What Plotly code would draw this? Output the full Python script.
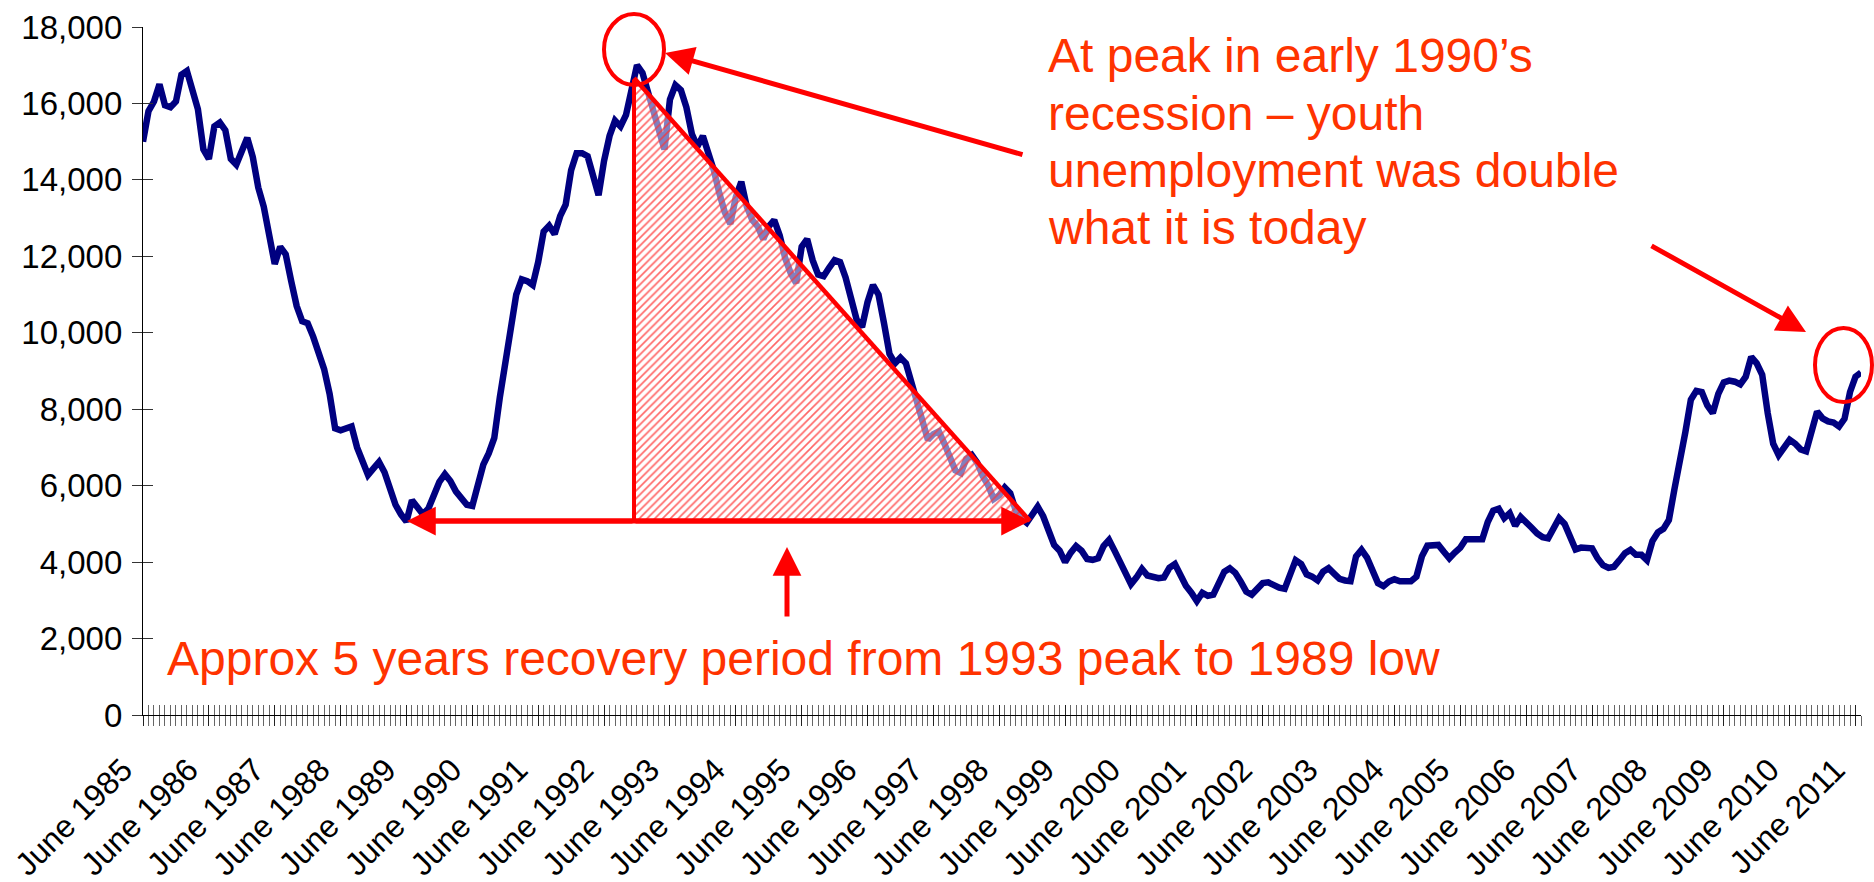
import plotly.graph_objects as go

# ---------------- data (monthly, June 1985 .. July 2011) ----------------
first_year = 1985
claimants_1985_1990 = [
    15000, 15800, 16050, 16500, 15950, 15900, 16050, 16750, 16850, 16300, 15850, 14800,
    14550, 15400, 15500, 15300, 14550, 14400, 14750, 15100, 14600, 13800, 13300, 12500,
    11800, 12250, 12050, 11350, 10700, 10300, 10250, 9900, 9450, 9050, 8400, 7500,
    7450, 7500, 7550, 7000, 6650, 6280, 6450, 6620, 6350, 5850, 5500, 5250,
    5060, 5620, 5450, 5250, 5400, 5750, 6100, 6300, 6120, 5850, 5680, 5500,
]
claimants_1990_1995 = [
    5470, 5950, 6550, 6850, 7250, 8300, 9200, 10050, 11000, 11400, 11350, 11250,
    11850, 12650, 12800, 12580, 13050, 13350, 14250, 14700, 14700, 14620, 14100, 13600,
    14500, 15150, 15550, 15400, 15700, 16450, 17000, 16800, 16300, 15850, 15350, 14800,
    16100, 16480, 16350, 15900, 15200, 14870, 15150, 14750, 14250, 13650, 13150, 12850,
    13550, 13950, 13300, 12950, 12780, 12450, 12780, 12950, 12550, 11950, 11560, 11300,
]
claimants_1995_2000 = [
    12250, 12450, 11900, 11520, 11480, 11700, 11900, 11850, 11450, 10900, 10350, 10150,
    10800, 11250, 11000, 10250, 9450, 9200, 9350, 9200, 8700, 8200, 7700, 7200,
    7350, 7420, 7100, 6750, 6400, 6330, 6700, 6800, 6600, 6250, 6000, 5650,
    5750, 5950, 5800, 5350, 5150, 5030, 5250, 5450, 5200, 4800, 4450, 4300,
    4000, 4240, 4420, 4300, 4080, 4060, 4100, 4420, 4580, 4300, 4000, 3750,
]
claimants_2000_2005 = [
    3420, 3600, 3820, 3650, 3600, 3580, 3600, 3850, 3950, 3650, 3380, 3200,
    2980, 3200, 3120, 3150, 3450, 3750, 3840, 3720, 3490, 3230, 3150, 3300,
    3450, 3470, 3390, 3330, 3300, 3650, 4050, 3950, 3680, 3620, 3520, 3750,
    3840, 3700, 3560, 3520, 3500, 4150, 4320, 4120, 3800, 3450, 3370, 3490,
    3550, 3500, 3500, 3500, 3620, 4150, 4430, 4450, 4450, 4270, 4100, 4250,
]
claimants_2005_2011 = [
    4380, 4600, 4600, 4600, 4600, 5050, 5350, 5400, 5150, 5280, 4950, 5180,
    5060, 4900, 4750, 4650, 4620, 4930, 5150, 5000, 4700, 4330, 4380, 4380,
    4360, 4100, 3920, 3850, 3880, 4050, 4230, 4320, 4190, 4190, 4050, 4550,
    4780, 4870, 5100, 5900, 6600, 7400, 8250, 8480, 8450, 8100, 7900, 8400,
    8700, 8750, 8720, 8650, 8850, 9370, 9200, 8900, 7900, 7100, 6800, 7000,
    7200, 7100, 6950, 6900, 7400, 7940, 7760, 7680, 7650, 7550, 7750, 8450,
    8850, 8960,
]
youth_unemployment = (claimants_1985_1990 + claimants_1990_1995 + claimants_1995_2000
                      + claimants_2000_2005 + claimants_2005_2011)
month_index = list(range(len(youth_unemployment)))
tick_labels = [f"June {y}" for y in range(first_year, 2012)]
tick_positions = [12 * i for i in range(len(tick_labels))]
y_ticks = list(range(0, 18001, 2000))

# ---------------- layout geometry ----------------
W, H = 1874, 882
ML, MR, MT, MB = 143, 13, 27, 167
XMAX = len(youth_unemployment) - 1
YMAX = 18000
PW, PH = W - ML - MR, H - MT - MB


def xd(px):  # pixel -> data x
    return (px - ML) / PW * XMAX


def yd(py):  # pixel -> data y
    return (H - MB - py) / PH * YMAX


def xp(px):  # pixel -> paper x
    return (px - ML) / PW


def yp(py):  # pixel -> paper y
    return (H - MB - py) / PH


RED = "#FF0000"
TXT = "#FF3300"
FONT = "Liberation Sans, Arial, Helvetica, sans-serif"

fig = go.Figure()
fig.add_trace(go.Scatter(
    x=month_index, y=youth_unemployment, mode="lines",
    line=dict(color="#000080", width=6.5), showlegend=False, hoverinfo="skip",
))

# hatched triangle (drawn over the line)
tri_px = [(634, 80), (634, 521), (1030, 521), (634, 80)]
fig.add_trace(go.Scatter(
    x=[xd(p[0]) for p in tri_px], y=[yd(p[1]) for p in tri_px],
    mode="lines", fill="toself", line=dict(width=0, color="rgba(0,0,0,0)"),
    fillcolor="rgba(255,255,255,0.5)",
    fillpattern=dict(shape="/", fgcolor="rgba(255,50,50,0.75)", bgcolor="rgba(255,255,255,0.5)",
                     size=5.5, solidity=0.3, fillmode="replace"),
    xaxis="x2", yaxis="y2", showlegend=False, hoverinfo="skip",
))

xtickfont = dict(family=FONT, size=32, color="#000000")
ytickfont = dict(family=FONT, size=33, color="#000000")
fig.update_layout(
    width=W, height=H, margin=dict(l=ML, r=MR, t=MT, b=MB, autoexpand=False),
    paper_bgcolor="white", plot_bgcolor="white", showlegend=False,
    xaxis=dict(
        range=[0, XMAX], tickmode="array", tickvals=tick_positions, ticktext=tick_labels,
        tickangle=-45, tickfont=xtickfont, ticks="outside", ticklen=10, tickwidth=1.3,
        tickcolor="#222222", showline=True, linecolor="#000000", linewidth=1.3,
        showgrid=False, zeroline=False, ticklabelstandoff=12, ticklabelshift=-20,
        automargin=False,
        minor=dict(tickmode="linear", tick0=0, dtick=1, ticks="outside", ticklen=10,
                   tickwidth=1, tickcolor="#666666", showgrid=False),
    ),
    yaxis=dict(
        range=[0, YMAX], tickmode="array", tickvals=y_ticks, tickformat=",d",
        tickfont=ytickfont, ticks="outside", ticklen=10, tickwidth=1.3, tickcolor="#333333",
        showline=True, linecolor="#000000", linewidth=1.3, showgrid=False, zeroline=False,
        ticklabelstandoff=3, automargin=False,
    ),
    xaxis2=dict(
        range=[0, XMAX], overlaying="x", anchor="y2", side="bottom", tickmode="array",
        tickvals=tick_positions, showticklabels=False, ticks="inside", ticklen=10,
        tickwidth=1.3, tickcolor="#222222", showline=False, showgrid=False, zeroline=False,
        automargin=False,
        minor=dict(tickmode="linear", tick0=0, dtick=1, ticks="inside", ticklen=10,
                   tickwidth=1, tickcolor="#666666", showgrid=False),
    ),
    yaxis2=dict(
        range=[0, YMAX], overlaying="y", anchor="x2", side="left", tickmode="array",
        tickvals=y_ticks, showticklabels=False, ticks="inside", ticklen=10, tickwidth=1.3,
        tickcolor="#333333", showline=False, showgrid=False, zeroline=False, automargin=False,
    ),
)

shapes = []
# triangle edges
shapes.append(dict(type="line", xref="paper", yref="paper", x0=xp(634), y0=yp(80),
                   x1=xp(634), y1=yp(521), line=dict(color=RED, width=4)))
shapes.append(dict(type="line", xref="paper", yref="paper", x0=xp(634), y0=yp(78),
                   x1=xp(1030), y1=yp(521), line=dict(color=RED, width=4.5)))
# horizontal arrow shaft
shapes.append(dict(type="line", xref="paper", yref="paper", x0=xp(420), y0=yp(521),
                   x1=xp(1018), y1=yp(521), line=dict(color=RED, width=5)))
# circles
shapes.append(dict(type="circle", xref="paper", yref="paper", x0=xp(604), y0=yp(14),
                   x1=xp(664), y1=yp(85), line=dict(color=RED, width=4)))
shapes.append(dict(type="circle", xref="paper", yref="paper", x0=xp(1815), y0=yp(328),
                   x1=xp(1872), y1=yp(402), line=dict(color=RED, width=4)))
fig.update_layout(shapes=shapes)

annotations = []


def arrow(head, tail, width=5):
    annotations.append(dict(
        xref="paper", yref="paper", x=xp(head[0]), y=yp(head[1]), text="",
        showarrow=True, ax=tail[0] - head[0], ay=tail[1] - head[1],
        arrowhead=2, arrowsize=1.15, arrowwidth=width, arrowcolor=RED, standoff=0,
    ))


arrow((665, 53), (1024, 155))
arrow((1806, 332), (1650, 245))
arrow((787, 547), (787, 618))
arrow((407, 521), (634, 521))
arrow((1030, 521), (634, 521))

note_lines = ["At peak in early 1990’s", "recession – youth",
              "unemployment was double", "what it is today"]
line_centers = [56, 113, 170, 228]
for txt, cy in zip(note_lines, line_centers):
    annotations.append(dict(
        xref="paper", yref="paper", x=xp(1046), y=yp(cy), xanchor="left", yanchor="middle",
        text=txt, showarrow=False, font=dict(family=FONT, size=48, color=TXT),
    ))
annotations.append(dict(
    xref="paper", yref="paper", x=xp(165), y=yp(658), xanchor="left", yanchor="middle",
    text="Approx 5 years recovery period from 1993 peak to 1989 low", showarrow=False,
    font=dict(family=FONT, size=48, color=TXT),
))
fig.update_layout(annotations=annotations)

fig.write_html("out.html", config={"displayModeBar": False},
               post_script="document.body.style.margin='0';document.body.style.overflow='hidden';")
